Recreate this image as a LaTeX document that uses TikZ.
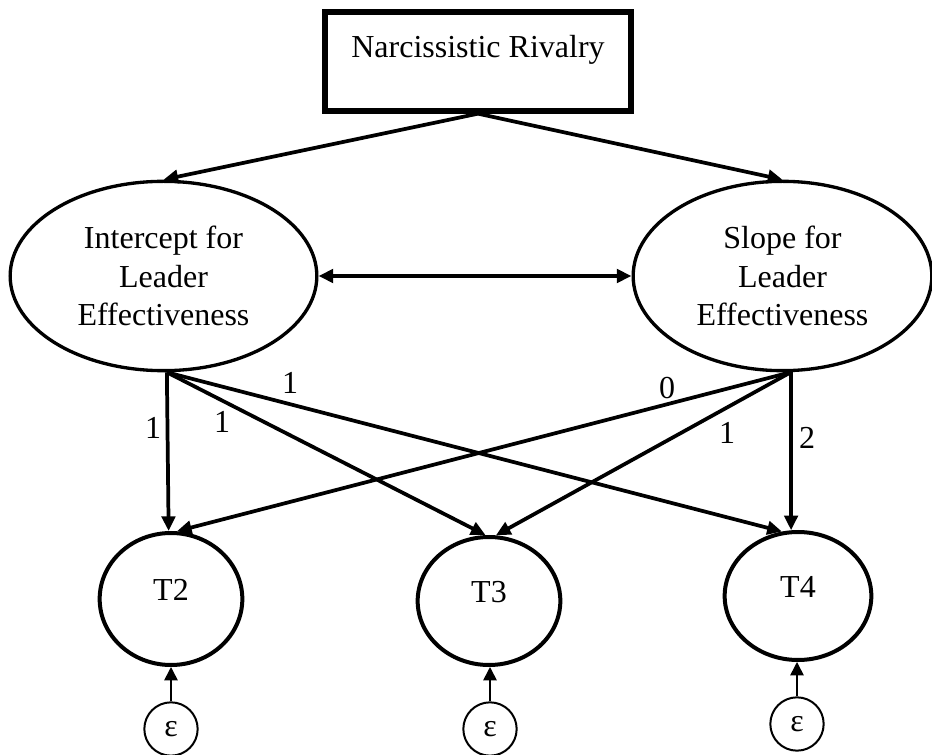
\documentclass[tikz,border=0pt]{standalone}
\usepackage{fontspec}
\setmainfont{Liberation Serif}
\usetikzlibrary{arrows.meta,shapes.geometric}
\begin{document}
\begin{tikzpicture}[x=0.75pt,y=-0.75pt,
  every node/.style={font=\fontsize{24}{29}\selectfont},
  topbox/.style={draw, rectangle, line width=4.5pt, inner xsep=0pt, inner ysep=0pt,
     minimum width=230pt, text height=34pt, text depth=40pt, anchor=north},
  lat/.style={draw, ellipse, line width=2.5pt, inner sep=0pt, align=center},
  obs/.style={draw, ellipse, line width=3pt, inner sep=0pt},
  err/.style={draw, circle, line width=1.5pt, inner sep=0pt, minimum size=40pt},
  arr/.style={line width=2.8pt, -{Triangle[length=11pt,width=10pt]}},
  darr/.style={line width=2.8pt, {Triangle[length=11pt,width=10pt]}-{Triangle[length=11pt,width=10pt]}},
  earr/.style={line width=1.2pt, -{Triangle[length=10pt,width=10pt]}},
  lbl/.style={inner sep=0pt}
]
\useasboundingbox (0,0) rectangle (932,755);

\node[topbox] (nr) at (478,9) {Narcissistic Rivalry};

\node[lat, minimum width=230pt, minimum height=142pt] (int) at (163.5,276)
  {Intercept for\\Leader\\Effectiveness};
\node[lat, minimum width=224pt, minimum height=142pt] (slp) at (782.5,276)
  {Slope for\\Leader\\Effectiveness};

\node[obs, minimum width=107pt, minimum height=99pt,
  label={[yshift=7pt]center:T2}] (t2) at (171,599) {};
\node[obs, minimum width=107pt, minimum height=96pt,
  label={[yshift=7pt]center:T3}] (t3) at (489,601) {};
\node[obs, minimum width=110pt, minimum height=96pt,
  label={[yshift=7pt]center:T4}] (t4) at (798,596) {};

\node[err] (e2) at (171,729) {ε};
\node[err] (e3) at (490,729) {ε};
\node[err] (e4) at (797,724) {ε};

\draw[arr] (nr.south) -- (int.north);
\draw[arr] (nr.south) -- (slp.north);
\draw[darr] (int.east) -- (slp.west);

\draw[arr] (int.-88) -- (t2.92.6);
\draw[arr] (int.-88) -- (t3.93);
\draw[arr] (int.-88) -- (t4.104);
\draw[arr] (slp.-85) -- (t2.85.7);
\draw[arr] (slp.-85) -- (t3.84.5);
\draw[arr] (slp.-85) -- (t4.96);

\draw[earr] (e2.north) -- (e2.north |- t2.south);
\draw[earr] (e3.north) -- (e3.north |- t3.south);
\draw[earr] (e4.north) -- (e4.north |- t4.south);

\node[lbl] (l1) at (153,428) {1};
\node[lbl] (l2) at (222,422) {1};
\node[lbl] (l3) at (290,383) {1};
\node[lbl] (l4) at (667,388) {0};
\node[lbl] (l5) at (727,433) {1};
\node[lbl] (l6) at (807,438) {2};
\end{tikzpicture}
\end{document}
